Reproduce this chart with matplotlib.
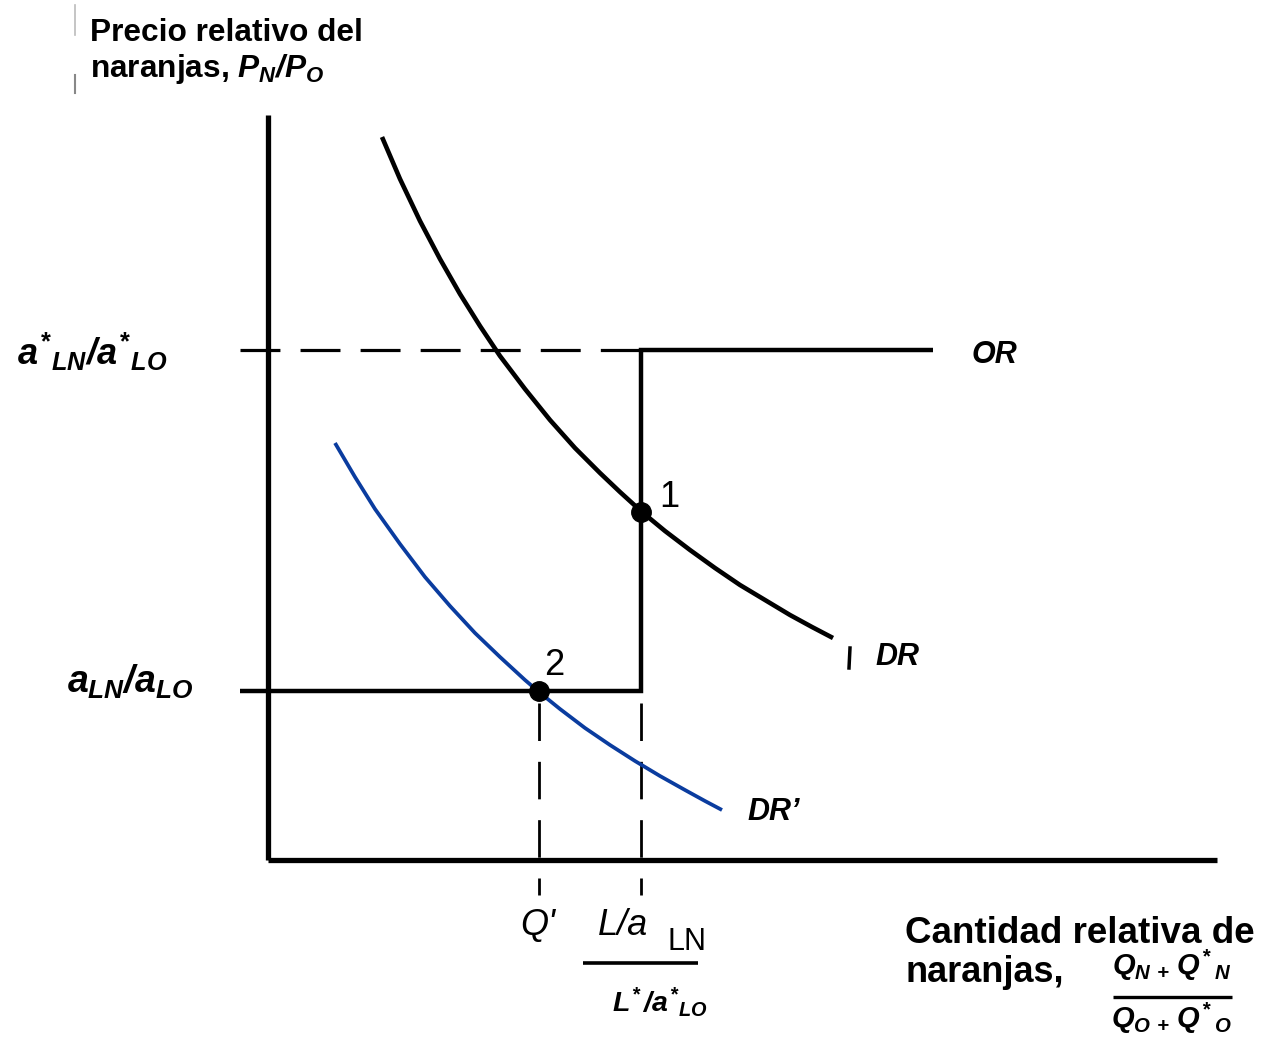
import matplotlib
matplotlib.use("Agg")
import matplotlib.pyplot as plt

plt.rcParams['font.family'] = ['Liberation Sans', 'DejaVu Sans']
plt.rcParams['mathtext.fontset'] = 'custom'
plt.rcParams['mathtext.rm'] = 'Liberation Sans:italic:bold'
plt.rcParams['mathtext.it'] = 'Liberation Sans:italic:bold'
plt.rcParams['mathtext.bf'] = 'Liberation Sans:bold'

# ---- data (relative quantity, relative price) ----
dr_q = [1.14, 1.32, 1.52, 1.72, 1.92, 2.12, 2.32, 2.57, 2.82, 3.07, 3.32,
        3.52, 3.74, 3.97, 4.22, 4.47, 4.72, 4.97, 5.22, 5.44, 5.65]
dr_p = [7.23, 6.81, 6.39, 6.01, 5.66, 5.34, 5.04, 4.71, 4.40, 4.12, 3.87,
        3.68, 3.48, 3.29, 3.10, 2.92, 2.75, 2.60, 2.45, 2.33, 2.22]
drp_q = [0.67, 0.87, 1.07, 1.32, 1.57, 1.82, 2.07, 2.32, 2.57, 2.71, 2.92,
         3.17, 3.42, 3.67, 3.92, 4.17, 4.37, 4.54]
drp_p = [4.17, 3.83, 3.51, 3.16, 2.83, 2.54, 2.27, 2.03, 1.80, 1.68, 1.51,
         1.32, 1.15, 0.99, 0.84, 0.70, 0.59, 0.50]
price_high = 5.10      # a*LN / a*LO
price_low = 1.69       # aLN / aLO
q_prime = 2.71         # Q'
q_world = 3.73         # (L/aLN)/(L*/a*LO)
or_end = 6.65
eq_points_q = [q_world, q_prime]
eq_points_p = [3.48, price_low]
eq_labels = ['1', '2']
y_axis_top = 7.45
x_axis_right = 9.49
tick_left = -0.28
tick_bottom = -0.35

fig = plt.figure(figsize=(12.65, 10.37), dpi=100)
ax = fig.add_axes([0, 0, 1, 1])
ax.set_xlim(-2.68, 9.97)
ax.set_ylim(-1.77, 8.60)
ax.axis('off')

black = 'black'
blue = '#0a3c9f'

# axes
ax.plot([0, 0], [0, y_axis_top], color=black, lw=3.8, solid_capstyle='butt')
ax.plot([0, x_axis_right], [0, 0], color=black, lw=3.8, solid_capstyle='butt')

# dashed horizontal at high price
ax.plot([tick_left, q_world], [price_high, price_high], color=black, lw=2.3,
        ls=(0, (12.5, 6.3)))
# relative supply OR
ax.plot([tick_left, q_world, q_world, or_end],
        [price_low, price_low, price_high, price_high],
        color=black, lw=3.2, solid_joinstyle='miter', solid_capstyle='butt')
# dashed verticals
for qv in [q_prime, q_world]:
    ax.plot([qv, qv], [price_low - 0.12, tick_bottom], color=black, lw=2.0,
            ls=(0, (13.5, 7.5)))

# demand curves
ax.plot(dr_q, dr_p, color=black, lw=3.3, solid_capstyle='butt',
        solid_joinstyle='round')
ax.plot(drp_q, drp_p, color=blue, lw=2.7, solid_capstyle='butt',
        solid_joinstyle='round')

# equilibrium points
ax.plot(eq_points_q, eq_points_p, 'o', color=black, ms=14)
ax.text(3.91, 3.53, eq_labels[0], fontsize=26, ha='left', va='baseline')
ax.text(2.76, 1.85, eq_labels[1], fontsize=26, ha='left', va='baseline')

# curve labels
ax.text(7.04, 5.05, 'OR', fontsize=22, fontweight='bold', fontstyle='italic',
        ha='left', va='center')
ax.plot([5.82, 5.81], [2.12, 1.92], color=black, lw=2.5)   # small mark before DR
ax.text(6.07, 2.03, 'DR', fontsize=22, fontweight='bold', fontstyle='italic',
        ha='left', va='center')
ax.text(4.79, 0.48, 'DR\u2019', fontsize=22, fontweight='bold', fontstyle='italic',
        ha='left', va='center')

# y-axis labels
ax.text(-2.51, 4.95, r'$a^{\!*}{}_{\!LN}/a^{\!*}{}_{\!LO}$', fontsize=26,
        ha='left', va='baseline')
ax.text(-2.01, 1.67, r'$a_{LN}/a_{LO}$', fontsize=27, ha='left', va='baseline')

# y-axis title
ax.plot([-1.93, -1.93], [8.55, 8.25], color='#bbbbbb', lw=1.2)
ax.plot([-1.93, -1.93], [7.85, 7.67], color='#888888', lw=1.5)
ax.text(-1.78, 8.19, 'Precio relativo del', fontsize=22.8, fontweight='bold',
        ha='left', va='baseline')
ax.text(-1.78, 7.83, r'naranjas, $P_N/P_O$', fontsize=22.8, fontweight='bold',
        ha='left', va='baseline')

# x-axis tick labels
ax.text(2.70, -0.75, "Q'", fontsize=26, fontstyle='italic', ha='center', va='baseline')
ax.text(3.30, -0.75, 'L/a', fontsize=26, fontstyle='italic', ha='left', va='baseline')
ax.text(4.00, -0.90, 'LN', fontsize=22, ha='left', va='baseline')
ax.plot([3.15, 4.30], [-1.03, -1.03], color=black, lw=2.6, solid_capstyle='butt')
ax.text(3.92, -1.52, r'$L^{\!*}/a^{\!*}{}_{\!LO}$', fontsize=20.5, ha='center', va='baseline')

# x-axis title
ax.text(6.37, -0.83, 'Cantidad relativa de', fontsize=26.5, fontweight='bold',
        ha='left', va='baseline')
ax.text(6.37, -1.22, 'naranjas,', fontsize=26, fontweight='bold',
        ha='left', va='baseline')
ax.text(9.04, -1.15, r'$Q_{N\,+}\,Q^{\!*}{}_N$', fontsize=21, ha='center', va='baseline')
ax.plot([8.45, 9.64], [-1.37, -1.37], color=black, lw=2.4, solid_capstyle='butt')
ax.text(9.04, -1.68, r'$Q_{O\,+}\,Q^{\!*}{}_O$', fontsize=21, ha='center', va='baseline')

fig.savefig('out.png', dpi=100, facecolor='white')
